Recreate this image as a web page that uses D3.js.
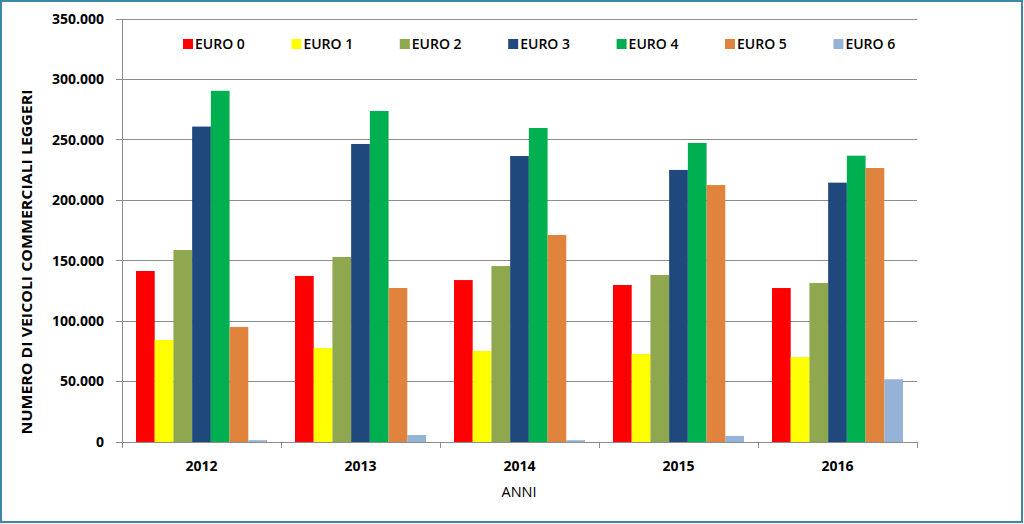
<!DOCTYPE html>
<html><head><meta charset="utf-8">
<script src="https://cdn.jsdelivr.net/npm/d3@7"></script>
<style>
body{margin:0;background:#fff;}
text{font-family:"Open Sans","Liberation Sans",Arial,sans-serif;}
</style></head>
<body>
<svg id="c" width="1024" height="524"></svg>
<script>
const years = ["2012","2013","2014","2015","2016"];
const seriesNames = ["EURO 0","EURO 1","EURO 2","EURO 3","EURO 4","EURO 5","EURO 6"];
const colors = ["#FF0000","#FFFF00","#8FA84F","#1F497D","#00B050","#E0833D","#95B3D7"];
const euro0 = [141500,137400,134000,129900,127400];
const euro1 = [84400,77800,75300,72800,70300];
const euro2 = [158900,153100,145600,138200,131600];
const euro3 = [261000,246600,236600,225100,214600];
const euro4 = [290600,273900,259800,247400,236900];
const euro5 = [95200,127400,171300,212600,226700];
const euro6 = [1500,5800,1500,5000,51900];
const yTicks = [0,50000,100000,150000,200000,250000,300000,350000];
const tickLabels = ["0","50.000","100.000","150.000","200.000","250.000","300.000","350.000"];
const xTitle = "ANNI";
const yTitle = "NUMERO DI VEICOLI COMMERCIALI LEGGERI";

const series = [euro0,euro1,euro2,euro3,euro4,euro5,euro6];
const svg = d3.select("#c");
const L=122,R=917,T=19,B=442;

svg.append("rect").attr("x",1).attr("y",1).attr("width",1021).attr("height",521)
  .attr("fill","#fff").attr("stroke","#3F87A8").attr("stroke-width",2);

const y = d3.scaleLinear().domain([0,350000]).range([B,T]);
const x0 = d3.scaleBand().domain(years).range([L,R]).padding(0);
const x1 = d3.scaleBand().domain(d3.range(7)).range([14, x0.bandwidth()-14]).padding(0);

// gridlines
svg.append("g").selectAll("line").data(yTicks).join("line")
  .attr("x1",L-6).attr("x2",R).attr("y1",d=>y(d)).attr("y2",d=>y(d))
  .attr("stroke","#8c8c8c").attr("stroke-width",1).attr("shape-rendering","crispEdges");

// y axis labels
svg.append("g").selectAll("text").data(yTicks).join("text")
  .attr("x",104).attr("y",d=>y(d)).attr("dy","0.35em").attr("text-anchor","end")
  .attr("font-size",14).attr("font-weight","bold").attr("fill","#000")
  .text((d,i)=>tickLabels[i]);

// bars
const g = svg.append("g");
years.forEach((yr,i)=>{
  series.forEach((s,k)=>{
    g.append("rect")
      .attr("x",x0(yr)+x1(k)).attr("width",x1.bandwidth())
      .attr("y",y(s[i])).attr("height",B-y(s[i]))
      .attr("fill",colors[k]);
  });
});

// axes lines
svg.append("line").attr("x1",L).attr("x2",L).attr("y1",T).attr("y2",B)
  .attr("stroke","#8c8c8c").attr("shape-rendering","crispEdges");
svg.append("line").attr("x1",L-6).attr("x2",R).attr("y1",B).attr("y2",B)
  .attr("stroke","#8c8c8c").attr("shape-rendering","crispEdges");
const bounds = years.map(d=>x0(d)).concat([R]);
svg.append("g").selectAll("line").data(bounds).join("line")
  .attr("x1",d=>d).attr("x2",d=>d).attr("y1",B).attr("y2",B+6)
  .attr("stroke","#8c8c8c").attr("shape-rendering","crispEdges");

// x labels
svg.append("g").selectAll("text").data(years).join("text")
  .attr("x",d=>x0(d)+x0.bandwidth()/2).attr("y",466).attr("dy","0.35em")
  .attr("text-anchor","middle").attr("font-size",14).attr("font-weight","bold").text(d=>d);

svg.append("text").attr("x",519).attr("y",492).attr("dy","0.35em").attr("text-anchor","middle")
  .attr("font-size",14.5).text(xTitle);

svg.append("text").attr("transform","translate(27,262) rotate(-90)").attr("dy","0.35em")
  .attr("text-anchor","middle").attr("font-size",14).attr("font-weight","bold")
  .attr("textLength",345).attr("lengthAdjust","spacingAndGlyphs").text(yTitle);

// legend
const lg = svg.append("g");
seriesNames.forEach((n,k)=>{
  const lx = 183 + k*108.4;
  lg.append("rect").attr("x",lx).attr("y",39).attr("width",10).attr("height",10).attr("fill",colors[k]);
  lg.append("text").attr("x",lx+12).attr("y",44).attr("dy","0.35em").attr("font-size",14)
    .attr("font-weight","600").text(n);
});
</script>
</body></html>
